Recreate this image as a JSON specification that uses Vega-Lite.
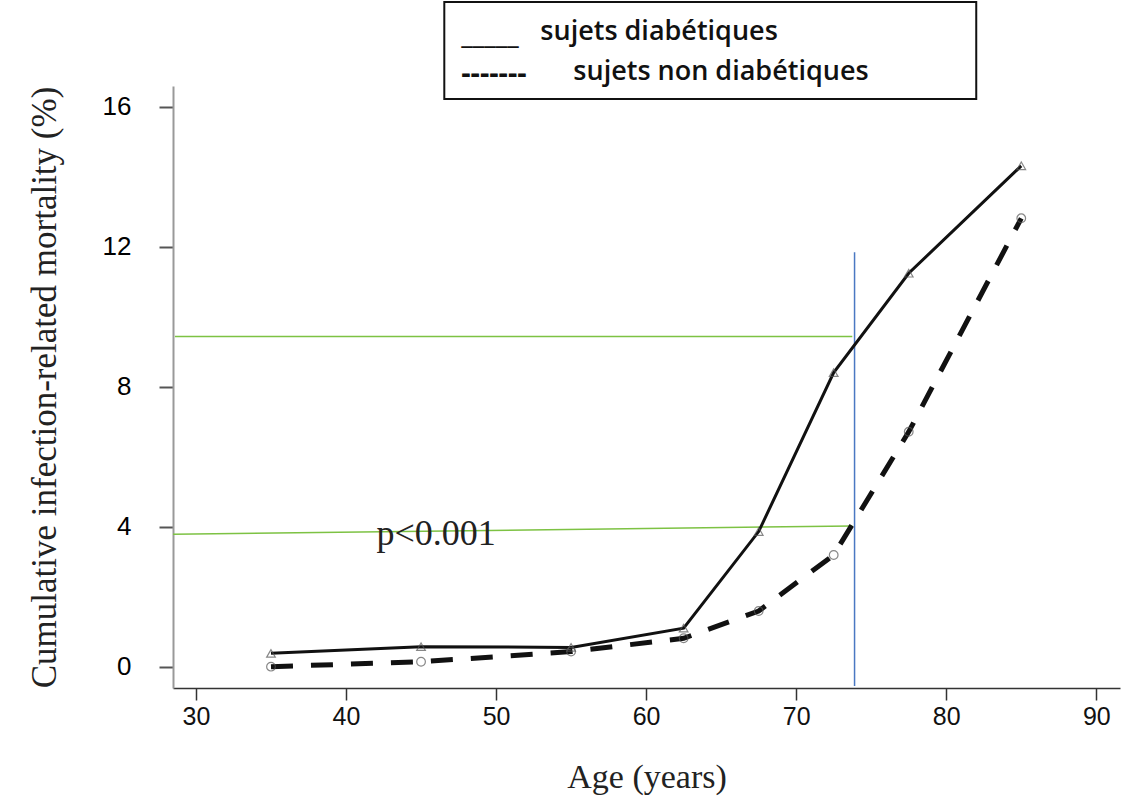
{
  "$schema": "https://vega.github.io/schema/vega-lite/v6.json",
  "width": 947,
  "height": 602,
  "autosize": {"type": "none"},
  "padding": {"left": 173, "top": 86, "right": 4, "bottom": 122},
  "background": "white",
  "config": {"view": {"stroke": null}},
  "datasets": {
    "series": [
      {"age": 35, "value": 0.38, "group": "diabetic"},
      {"age": 45, "value": 0.57, "group": "diabetic"},
      {"age": 55, "value": 0.55, "group": "diabetic"},
      {"age": 62.5, "value": 1.10, "group": "diabetic"},
      {"age": 67.5, "value": 3.86, "group": "diabetic"},
      {"age": 72.5, "value": 8.40, "group": "diabetic"},
      {"age": 77.5, "value": 11.24, "group": "diabetic"},
      {"age": 85, "value": 14.31, "group": "diabetic"},
      {"age": 35, "value": 0.0, "group": "non"},
      {"age": 45, "value": 0.14, "group": "non"},
      {"age": 55, "value": 0.43, "group": "non"},
      {"age": 62.5, "value": 0.81, "group": "non"},
      {"age": 67.5, "value": 1.59, "group": "non"},
      {"age": 72.5, "value": 3.19, "group": "non"},
      {"age": 77.5, "value": 6.71, "group": "non"},
      {"age": 85, "value": 12.81, "group": "non"}
    ],
    "refs": [
      {"age": 28.6, "value": 9.43, "age2": 73.74, "value2": 9.43, "kind": "green"},
      {"age": 28.47, "value": 3.78, "age2": 73.74, "value2": 4.02, "kind": "green"},
      {"age": 73.89, "value": 11.84, "age2": 73.89, "value2": -0.55, "kind": "blue"}
    ],
    "box": [
      {"age": 46.55, "value": 18.99, "age2": 82.0, "value2": 16.22}
    ],
    "legendText": [
      {"age": 52.95, "value": 17.91, "label": "sujets diabétiques", "kind": "text"},
      {"age": 55.15, "value": 16.76, "label": "sujets non diabétiques", "kind": "text"},
      {"age": 47.68, "value": 17.79, "label": "_____", "kind": "under"},
      {"age": 47.68, "value": 16.68, "label": "-------", "kind": "dash"}
    ],
    "ptext": [
      {"age": 42.03, "value": 3.48, "label": "p<0.001"}
    ]
  },
  "encoding": {
    "x": {
      "field": "age", "type": "quantitative",
      "scale": {"domain": [28.47, 91.58], "nice": false, "zero": false},
      "axis": {
        "title": "Age (years)", "titleFont": "Liberation Serif", "titleFontSize": 34,
        "titleFontWeight": "normal", "titleColor": "#222", "titleBaseline": "alphabetic", "titleY": 99,
        "values": [30, 40, 50, 60, 70, 80, 90], "format": "d",
        "labelFont": "Liberation Sans", "labelFontSize": 25, "labelColor": "#111",
        "labelDx": -9, "labelPadding": 4, "tickSize": 12, "tickColor": "#333", "tickWidth": 1.5,
        "domainColor": "#333", "domainWidth": 1.5, "grid": false
      }
    },
    "y": {
      "field": "value", "type": "quantitative",
      "scale": {"domain": [-0.61, 16.59], "nice": false, "zero": false},
      "axis": {
        "title": "Cumulative infection-related mortality (%)", "titleFont": "Liberation Serif",
        "titleFontSize": 35, "titleFontWeight": "normal", "titleColor": "#222",
        "titleBaseline": "alphabetic", "titleX": -118,
        "values": [0, 4, 8, 12, 16], "format": "d",
        "labelFont": "Liberation Sans", "labelFontSize": 26, "labelColor": "#000",
        "labelPadding": 28, "tickSize": 14, "tickColor": "#555", "tickWidth": 2,
        "domainColor": "#999", "domainWidth": 2, "grid": false
      }
    }
  },
  "layer": [
    {
      "data": {"name": "refs"},
      "mark": {"type": "rule", "strokeWidth": 1.5},
      "encoding": {
        "x2": {"field": "age2"},
        "y2": {"field": "value2"},
        "color": {"field": "kind", "type": "nominal", "scale": {"domain": ["green", "blue"], "range": ["#7dc243", "#4a78c2"]}, "legend": null}
      }
    },
    {
      "data": {"name": "series"},
      "transform": [{"filter": "datum.group === 'non'"}],
      "mark": {"type": "line", "color": "#111", "strokeWidth": 5, "strokeDash": [22, 18], "strokeCap": "butt"}
    },
    {
      "data": {"name": "series"},
      "transform": [{"filter": "datum.group === 'diabetic'"}],
      "mark": {"type": "line", "color": "#111", "strokeWidth": 3}
    },
    {
      "data": {"name": "series"},
      "mark": {"type": "point", "filled": false, "stroke": "#555", "strokeWidth": 1.2, "size": 75},
      "encoding": {
        "shape": {"field": "group", "type": "nominal", "scale": {"domain": ["diabetic", "non"], "range": ["triangle-up", "circle"]}, "legend": null}
      }
    },
    {
      "data": {"name": "ptext"},
      "mark": {"type": "text", "font": "Liberation Serif", "fontSize": 36, "align": "left", "baseline": "alphabetic", "color": "#222"},
      "encoding": {"text": {"field": "label"}}
    },
    {
      "data": {"name": "box"},
      "mark": {"type": "rect", "fill": "white", "stroke": "#111", "strokeWidth": 2},
      "encoding": {
        "x2": {"field": "age2"},
        "y2": {"field": "value2"}
      }
    },
    {
      "data": {"name": "legendText"},
      "transform": [{"filter": "datum.kind === 'text'"}],
      "mark": {"type": "text", "font": "Open Sans", "fontSize": 27, "fontWeight": 600, "align": "left", "baseline": "alphabetic", "color": "#111"},
      "encoding": {"text": {"field": "label"}}
    },
    {
      "data": {"name": "legendText"},
      "transform": [{"filter": "datum.kind === 'under'"}],
      "mark": {"type": "text", "font": "Open Sans", "fontSize": 27, "fontWeight": 600, "align": "left", "baseline": "alphabetic", "color": "#111"},
      "encoding": {"text": {"field": "label"}}
    },
    {
      "data": {"name": "legendText"},
      "transform": [{"filter": "datum.kind === 'dash'"}],
      "mark": {"type": "text", "font": "Open Sans", "fontSize": 29, "fontWeight": "bold", "align": "left", "baseline": "alphabetic", "color": "#111"},
      "encoding": {"text": {"field": "label"}}
    }
  ]
}
